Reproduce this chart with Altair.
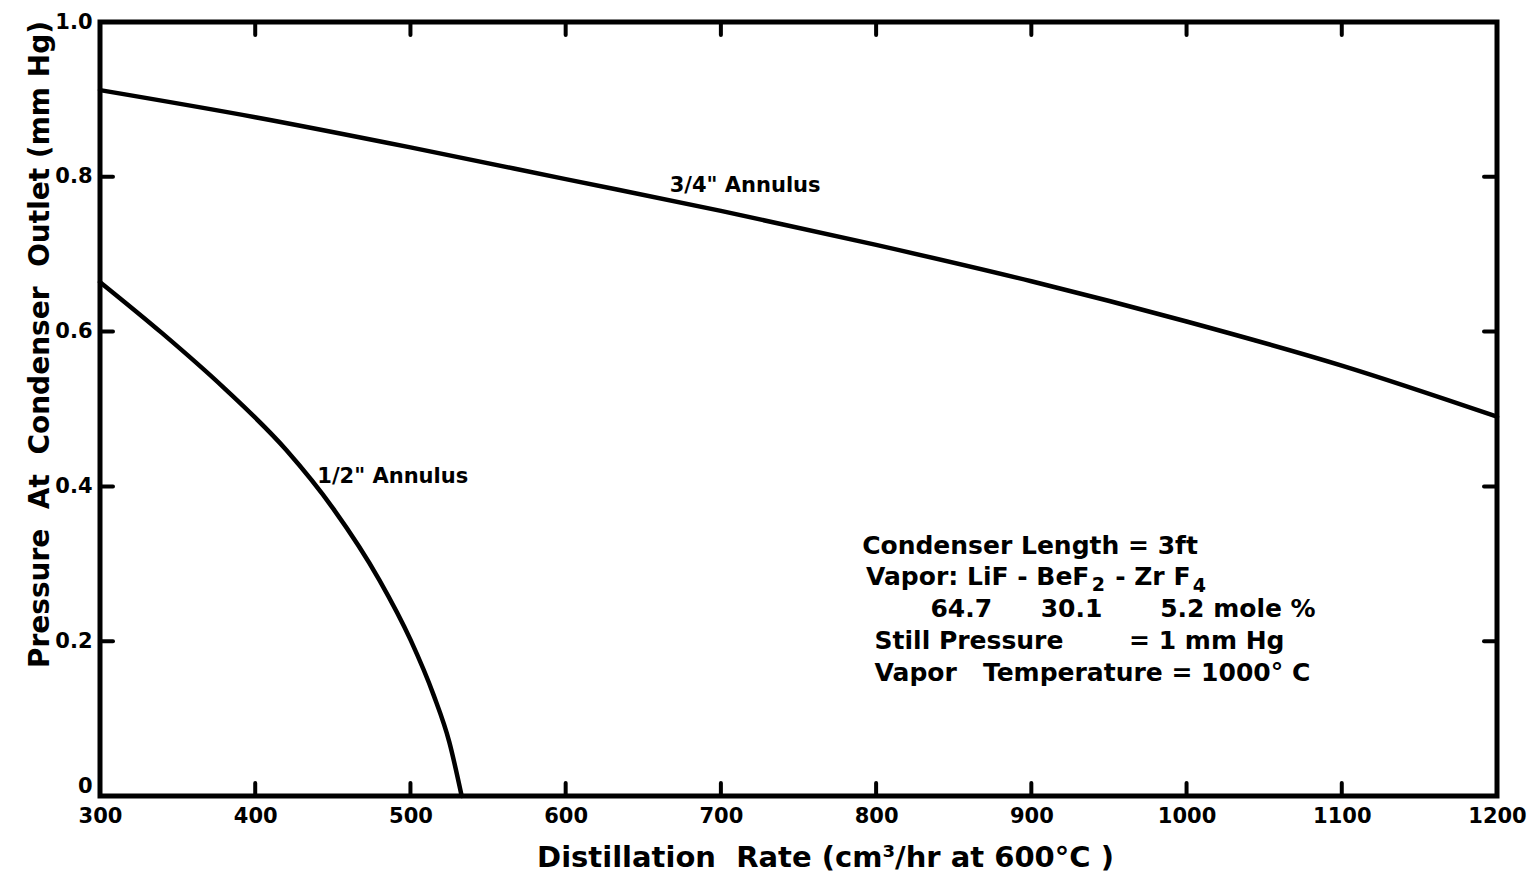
import altair as alt
import pandas as pd

# Pressure at the condenser outlet vs. distillation rate, two annulus widths
rate_34 = [300, 400, 500, 600, 700, 800, 900, 1000, 1100, 1200]
pres_34 = [0.912, 0.877, 0.838, 0.797, 0.756, 0.712, 0.665, 0.613, 0.556, 0.490]

rate_12 = [300, 340, 380, 420, 450, 480, 500, 515, 525, 533]
pres_12 = [0.664, 0.598, 0.527, 0.447, 0.372, 0.279, 0.202, 0.130, 0.070, 0.0]

x_tick_values = [300, 400, 500, 600, 700, 800, 900, 1000, 1100, 1200]
y_tick_values = [0, 0.2, 0.4, 0.6, 0.8, 1.0]
x_inner_ticks = [400, 500, 600, 700, 800, 900, 1000, 1100]
y_inner_ticks = [0.2, 0.4, 0.6, 0.8]

# curve labels: text, x, y (data units)
curve_labels = ['3/4" Annulus', '1/2" Annulus']
curve_label_x = [667, 440]
curve_label_y = [0.788, 0.412]

NB = "\u00a0"
# condition notes block: text, x, y (data units)
note_text = ["Condenser Length = 3ft",
             "Vapor: LiF - BeF", "- Zr F",
             "64.7", "30.1", "5.2 mole %",
             "Still Pressure", "=" + NB + "1" + NB + "mm" + NB + "Hg",
             "Vapor" + NB * 3 + "Temperature = 1000° C"]
note_x = [791, 793.5, 954, 835, 906, 983, 799, 963, 799]
note_y = [0.323, 0.283, 0.283, 0.2416, 0.2416, 0.2416, 0.2003, 0.2003, 0.159]

# subscripts of the vapor formula
sub_text = ["2", "4"]
sub_x = [939, 1004]
sub_y = [0.273, 0.271]

FONT = "DejaVu Sans"
W, H = 1397, 774
TICK = 13

xs = alt.Scale(domain=[300, 1200], nice=False, zero=False)
ys = alt.Scale(domain=[0, 1], nice=False)

x_axis = alt.Axis(
    values=x_tick_values, ticks=False, domain=False, grid=False,
    labelPadding=9, labelFontSize=21, labelFlush=False, format="d",
    title="Distillation" + NB * 2 + "Rate (cm³/hr at 600°C )",
    titleFontSize=29, titleX=725, titleY=61, titleBaseline="middle",
)
y_axis = alt.Axis(
    values=y_tick_values, ticks=False, domain=False, grid=False,
    labelPadding=8, labelFontSize=21, labelFlush=False,
    labelBaseline={"expr": "datum.value == 0 ? 'bottom' : 'middle'"},
    labelExpr="datum.value == 0 ? '0' : format(datum.value, '.1f')",
    title="Pressure" + NB * 2 + "At" + NB * 2 + "Condenser" + NB * 2 + "Outlet (mm Hg)",
    titleFontSize=28, titleAngle=270, titleX=-60, titleY=322,
    titleAlign="center", titleBaseline="middle",
)


def X(field):
    return alt.X(field, scale=xs, axis=x_axis)


def Y(field):
    return alt.Y(field, scale=ys, axis=y_axis)


curves = pd.DataFrame({
    "rate": rate_34 + rate_12,
    "pressure": pres_34 + pres_12,
    "series": ["3/4"] * len(rate_34) + ["1/2"] * len(rate_12),
})

lines = alt.Chart(curves).mark_line(
    color="black", strokeWidth=4.5, interpolate="monotone", strokeCap="round"
).encode(x=X("rate:Q"), y=Y("pressure:Q"), detail="series:N")

xt = pd.DataFrame({"v": x_inner_ticks})
yt = pd.DataFrame({"v": y_inner_ticks})
rule = dict(color="black", strokeWidth=4, strokeCap="round")

bottom_ticks = alt.Chart(xt).mark_rule(**rule).encode(
    x=X("v:Q"), y=alt.value(H), y2=alt.value(H - TICK))
top_ticks = alt.Chart(xt).mark_rule(**rule).encode(
    x=X("v:Q"), y=alt.value(0), y2=alt.value(TICK))
left_ticks = alt.Chart(yt).mark_rule(**rule).encode(
    y=Y("v:Q"), x=alt.value(0), x2=alt.value(TICK))
right_ticks = alt.Chart(yt).mark_rule(**rule).encode(
    y=Y("v:Q"), x=alt.value(W), x2=alt.value(W - TICK))

lab = pd.DataFrame({"text": curve_labels, "x": curve_label_x, "y": curve_label_y})
curve_text = alt.Chart(lab).mark_text(
    align="left", baseline="middle", font=FONT, fontWeight="bold", fontSize=21
).encode(x=X("x:Q"), y=Y("y:Q"), text="text:N")

notes = pd.DataFrame({"text": note_text, "x": note_x, "y": note_y})
note_marks = alt.Chart(notes).mark_text(
    align="left", baseline="middle", font=FONT, fontWeight="bold", fontSize=25
).encode(x=X("x:Q"), y=Y("y:Q"), text="text:N")

subs = pd.DataFrame({"text": sub_text, "x": sub_x, "y": sub_y})
sub_marks = alt.Chart(subs).mark_text(
    align="left", baseline="middle", font=FONT, fontWeight="bold", fontSize=19
).encode(x=X("x:Q"), y=Y("y:Q"), text="text:N")

chart = alt.layer(
    lines, bottom_ticks, top_ticks, left_ticks, right_ticks,
    curve_text, note_marks, sub_marks
).properties(
    width=W, height=H,
    background="white",
    autosize=alt.AutoSizeParams(type="none"),
    padding={"left": 100, "top": 22, "right": 42, "bottom": 79},
).configure_view(
    stroke="black", strokeWidth=5
).configure_axis(
    labelFont=FONT, labelFontWeight="bold", labelColor="black",
    titleFont=FONT, titleFontWeight="bold", titleColor="black",
)

chart.save("out.html", embed_options={"renderer": "svg", "actions": False})
